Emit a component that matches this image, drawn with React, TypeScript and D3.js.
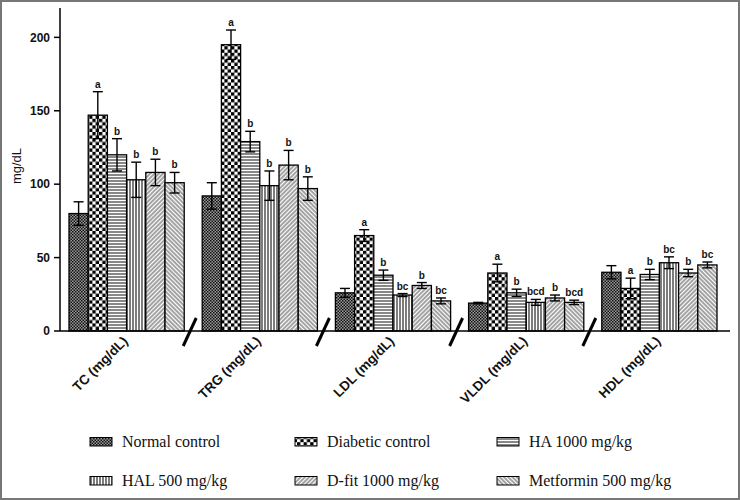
import React from "react";
import * as d3 from "d3";

const categories = ["TC (mg/dL)", "TRG (mg/dL)", "LDL (mg/dL)", "VLDL (mg/dL)", "HDL (mg/dL)"];
const seriesNames = ["Normal control", "Diabetic control", "HA 1000 mg/kg", "HAL 500 mg/kg", "D-fit 1000 mg/kg", "Metformin 500 mg/kg"];
const patternIds = ["pNormal", "pDiab", "pHA", "pHAL", "pDfit", "pMet"];

// means per series, in category order
const normalVals = [80, 92, 26, 19, 40];
const diabeticVals = [147, 195, 65, 39.5, 29];
const haVals = [120, 129, 38, 26, 38.5];
const halVals = [103, 99, 24.5, 19.5, 46.5];
const dfitVals = [108, 113, 31, 22.5, 39.5];
const metVals = [101, 97, 20.5, 19.5, 45];

const normalErr = [8, 9, 3, 0.5, 4.5];
const diabeticErr = [16, 10, 4, 6, 7];
const haErr = [11, 7, 3.5, 2.5, 3.5];
const halErr = [12, 10, 1, 2, 4];
const dfitErr = [9, 10, 2, 2, 2.5];
const metErr = [7, 8, 2, 1.5, 2];

const normalSig = ["", "", "", "", ""];
const diabeticSig = ["a", "a", "a", "a", "a"];
const haSig = ["b", "b", "b", "b", "b"];
const halSig = ["b", "b", "bc", "bcd", "bc"];
const dfitSig = ["b", "b", "b", "b", "b"];
const metSig = ["b", "b", "bc", "bcd", "bc"];

const yTicks = [0, 50, 100, 150, 200];

const allVals = [normalVals, diabeticVals, haVals, halVals, dfitVals, metVals];
const allErr = [normalErr, diabeticErr, haErr, halErr, dfitErr, metErr];
const allSig = [normalSig, diabeticSig, haSig, halSig, dfitSig, metSig];

const W = 740;
const H = 500;

export default function App() {
  const x0 = d3.scaleBand<string>().domain(categories).range([60, 726]).paddingInner(0.135).paddingOuter(0.0676);
  const x1 = d3.scaleBand<string>().domain(seriesNames).range([0, x0.bandwidth()]);
  const y = d3.scaleLinear().domain([0, 220]).range([331, 8]);

  const bars: any[] = [];
  categories.forEach((c, ci) => {
    seriesNames.forEach((s, si) => {
      bars.push({ c, ci, s, si, v: allVals[si][ci], e: allErr[si][ci], sig: allSig[si][ci] });
    });
  });

  const legendCols = [90, 295, 497];
  const legendRows = [446.5, 485.5];

  return (
    <svg width={W} height={H} style={{ position: "absolute", left: 0, top: 0, background: "#fff" }} fontFamily="Arial, Liberation Sans, sans-serif">
      <defs>
        <pattern id="pNormal" width="3" height="3" patternUnits="userSpaceOnUse">
          <rect width="3" height="3" fill="#999" />
          <rect width="1.5" height="1.5" fill="#111" />
          <rect x="1.5" y="1.5" width="1.5" height="1.5" fill="#111" />
        </pattern>
        <pattern id="pDiab" width="6.6" height="6.6" patternUnits="userSpaceOnUse">
          <rect width="6.6" height="6.6" fill="#fff" />
          <rect width="3.3" height="3.3" fill="#000" />
          <rect x="3.3" y="3.3" width="3.3" height="3.3" fill="#000" />
        </pattern>
        <pattern id="pHA" width="4" height="3" patternUnits="userSpaceOnUse">
          <rect width="4" height="3" fill="#fff" />
          <line x1="0" y1="1" x2="4" y2="1" stroke="#111" strokeWidth="1" />
        </pattern>
        <pattern id="pHAL" width="3" height="4" patternUnits="userSpaceOnUse">
          <rect width="3" height="4" fill="#fff" />
          <line x1="1" y1="0" x2="1" y2="4" stroke="#111" strokeWidth="1.1" />
        </pattern>
        <pattern id="pDfit" width="3" height="3" patternUnits="userSpaceOnUse" patternTransform="rotate(45)">
          <rect width="3" height="3" fill="#fff" />
          <line x1="1" y1="0" x2="1" y2="3" stroke="#333" strokeWidth="0.9" />
        </pattern>
        <pattern id="pMet" width="3" height="3" patternUnits="userSpaceOnUse" patternTransform="rotate(-45)">
          <rect width="3" height="3" fill="#fff" />
          <line x1="1" y1="0" x2="1" y2="3" stroke="#333" strokeWidth="0.9" />
        </pattern>
      </defs>
      <rect x={1} y={1} width={W - 2} height={H - 2} fill="#fff" stroke="#777" strokeWidth={2} />

      {/* bars */}
      {bars.map((b, i) => {
        const bx = (x0(b.c) as number) + (x1(b.s) as number);
        const bw = x1.bandwidth();
        const top = y(b.v);
        const cx = bx + bw / 2;
        return (
          <g key={i}>
            <rect x={bx} y={top} width={bw} height={y(0) - top} fill={`url(#${patternIds[b.si]})`} stroke="#000" strokeWidth={1.3} />
            <line x1={cx} x2={cx} y1={y(b.v + b.e)} y2={y(b.v - b.e)} stroke="#000" strokeWidth={1.4} />
            <line x1={cx - 5} x2={cx + 5} y1={y(b.v + b.e)} y2={y(b.v + b.e)} stroke="#000" strokeWidth={1.4} />
            <line x1={cx - 5} x2={cx + 5} y1={y(b.v - b.e)} y2={y(b.v - b.e)} stroke="#000" strokeWidth={1.4} />
            {b.sig && (
              <text x={cx} y={y(b.v + b.e) - 4} textAnchor="middle" fontSize={10} fontWeight="bold" fill="#111">
                {b.sig}
              </text>
            )}
          </g>
        );
      })}

      {/* axes */}
      <line x1={60} x2={60} y1={8} y2={331} stroke="#000" strokeWidth={1.5} />
      <line x1={60} x2={730} y1={331} y2={331} stroke="#000" strokeWidth={1.5} />
      {yTicks.map((t) => (
        <g key={t}>
          <line x1={54} x2={60} y1={y(t)} y2={y(t)} stroke="#000" strokeWidth={1.5} />
          <text x={50} y={y(t)} dy="0.35em" textAnchor="end" fontSize={12} fontWeight="bold" fill="#111">
            {t}
          </text>
        </g>
      ))}
      <text transform={`translate(21,166) rotate(-90)`} textAnchor="middle" fontSize={13} fill="#111">
        mg/dL
      </text>

      {/* axis breaks */}
      {categories.slice(1).map((c) => {
        const gx = (x0(c) as number) - (x0.step() - x0.bandwidth()) / 2 - 3;
        return <line key={c} x1={gx - 7} y1={346} x2={gx + 6} y2={318} stroke="#000" strokeWidth={3} />;
      })}

      {/* category labels */}
      {categories.map((c) => {
        const cx = (x0(c) as number) + x0.bandwidth() / 2 + 2;
        return (
          <text key={c} transform={`translate(${cx},${342}) rotate(-45)`} textAnchor="end" fontSize={13.5} fontWeight="bold" fill="#111">
            {c}
          </text>
        );
      })}

      {/* legend */}
      {seriesNames.map((s, i) => {
        const col = i % 3;
        const row = Math.floor(i / 3);
        const lx = legendCols[col];
        const ly = legendRows[row];
        return (
          <g key={s}>
            <rect x={lx} y={ly - 9} width={22} height={8.5} fill={`url(#${patternIds[i]})`} stroke="#000" strokeWidth={1} />
            <text x={lx + 32} y={ly} fontSize={16} fontFamily="Liberation Serif, Times New Roman, serif" fill="#111">
              {s}
            </text>
          </g>
        );
      })}
    </svg>
  );
}
